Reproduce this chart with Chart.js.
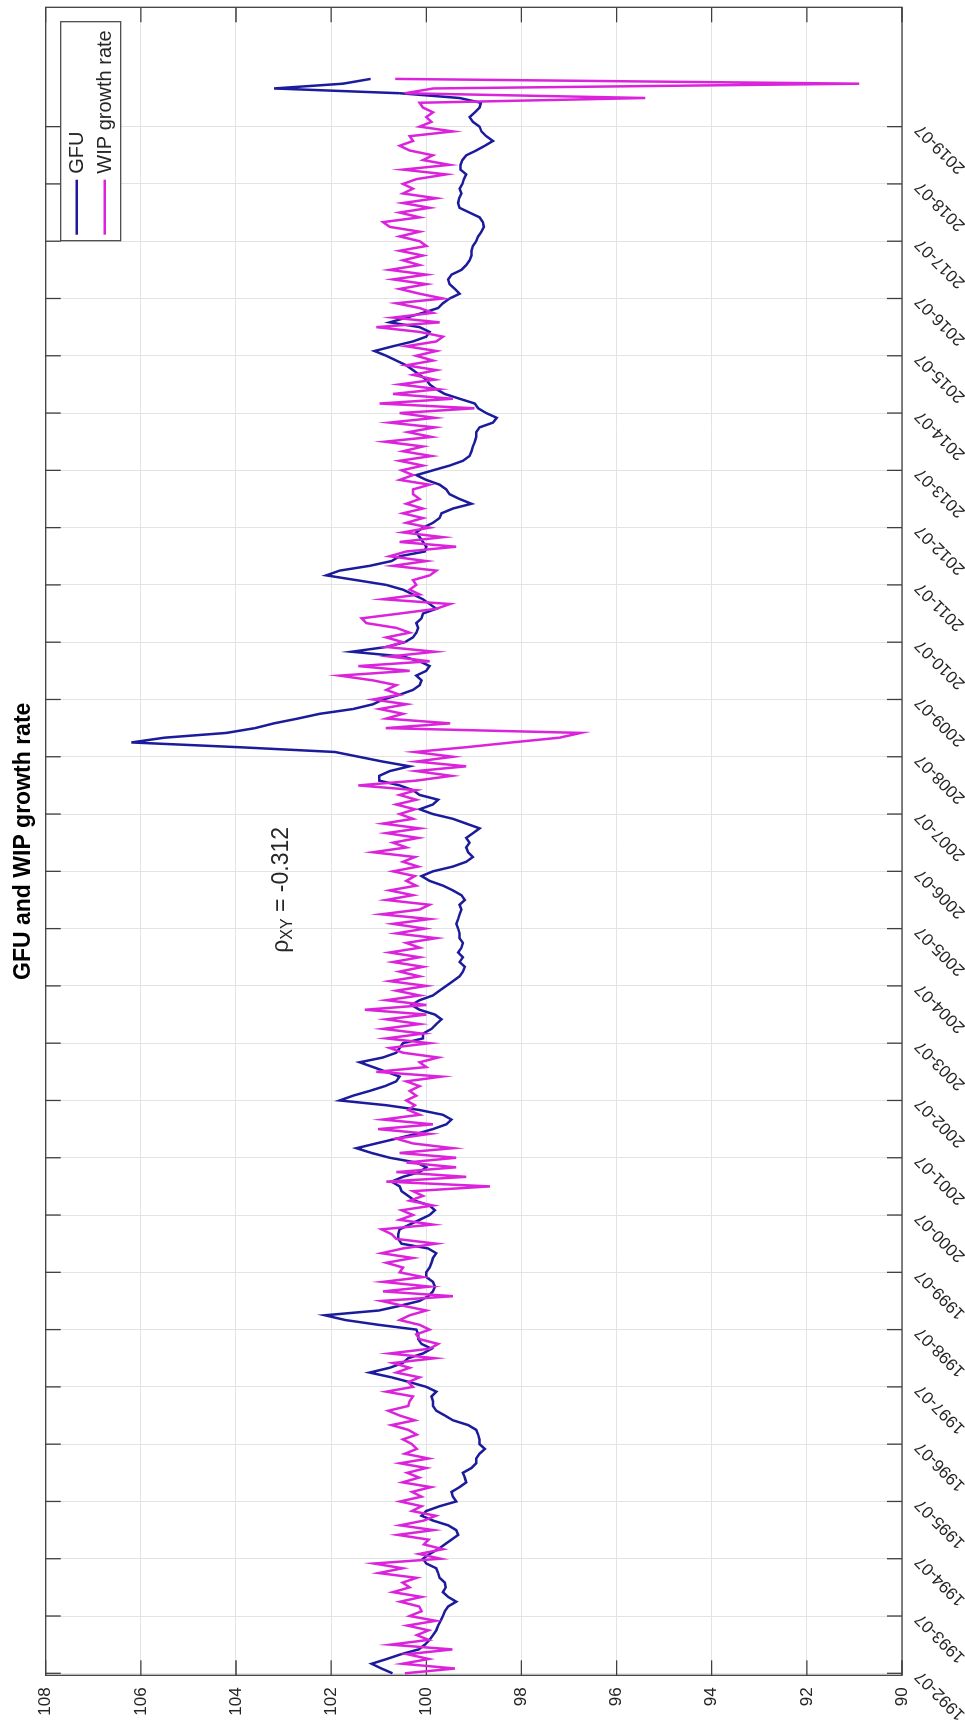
<!DOCTYPE html>
<html>
<head>
<meta charset="utf-8">
<script src="https://cdn.jsdelivr.net/npm/chart.js@4.4.1/dist/chart.umd.min.js"></script>
<style>
  html, body { margin: 0; padding: 0; background: #fff; width: 965px; height: 1731px; overflow: hidden; }
  /* the figure is laid out landscape and turned a quarter turn counter-clockwise */
  #wrap { position: absolute; left: 0; top: 0; width: 1731px; height: 965px;
          transform-origin: 0 0; transform: translate(0, 1731px) rotate(-90deg); background: #fff; }
  canvas { display: block; }
</style>
</head>
<body>
<div id="wrap"><canvas id="c" width="1731" height="965"></canvas></div>
<script>
// Monthly series, first month 1992-07 (index 0), last month 2020-05
const gfu = [
  100.71, 100.94, 101.15, 100.83, 100.53, 100.16, 100.03, 99.93, 99.86, 99.79, 99.75, 99.70,   // 1992-07
  99.65, 99.61, 99.54, 99.37, 99.54, 99.65, 99.59, 99.61, 99.72, 99.75, 99.79, 100.00,         // 1993-07
  100.07, 99.93, 99.75, 99.61, 99.47, 99.33, 99.37, 99.54, 99.86, 100.10, 100.00, 99.72,       // 1994-07
  99.37, 99.44, 99.47, 99.30, 99.16, 99.19, 99.23, 99.05, 98.95, 98.95, 98.88, 98.77,          // 1995-07
  98.88, 98.88, 98.91, 98.95, 99.12, 99.44, 99.61, 99.79, 99.86, 99.86, 99.89, 99.79,          // 1996-07
  100.00, 100.35, 100.73, 101.19, 100.77, 100.49, 100.38, 100.07, 99.89, 100.10, 100.17, 100.17, // 1997-07
  100.21, 101.00, 101.70, 102.13, 101.00, 100.55, 100.14, 99.96, 99.86, 99.82, 99.86, 100.00,  // 1998-07
  100.00, 99.93, 99.89, 99.86, 99.79, 99.96, 100.52, 100.59, 100.59, 100.56, 100.35, 100.14,   // 1999-07
  99.93, 99.82, 99.93, 100.24, 100.38, 100.52, 100.56, 100.73, 100.49, 100.14, 100.00, 100.21, // 2000-07
  100.77, 101.15, 101.47, 101.05, 100.63, 100.21, 99.86, 99.58, 99.47, 99.65, 100.14, 100.84,  // 2001-07
  101.82, 101.54, 101.19, 100.87, 100.63, 100.56, 100.84, 101.12, 101.40, 100.91, 100.63, 100.56, // 2002-07
  100.49, 100.07, 100.07, 99.89, 99.79, 99.68, 99.82, 100.14, 100.31, 100.14, 99.86, 99.72,    // 2003-07
  99.58, 99.44, 99.30, 99.23, 99.19, 99.30, 99.23, 99.33, 99.26, 99.23, 99.30, 99.30,          // 2004-07
  99.33, 99.37, 99.33, 99.30, 99.26, 99.30, 99.19, 99.26, 99.44, 99.65, 99.93, 100.10,         // 2005-07
  99.86, 99.44, 99.16, 99.02, 99.12, 99.16, 99.09, 99.16, 99.02, 98.88, 99.16, 99.44,          // 2006-07
  99.86, 100.14, 99.86, 99.75, 100.14, 100.28, 100.56, 100.99, 100.99, 100.77, 100.35, 100.92, // 2007-07
  101.42, 101.92, 103.93, 106.20, 105.50, 104.20, 103.60, 103.20, 102.70, 102.24, 101.54, 101.12, // 2008-07
  100.91, 100.56, 100.28, 100.14, 100.10, 100.21, 100.00, 99.93, 100.14, 100.49, 101.57, 100.84, // 2009-07
  100.45, 100.28, 100.21, 100.17, 100.21, 100.10, 100.07, 99.79, 99.93, 100.07, 100.28, 100.49, // 2010-07
  100.84, 101.47, 102.10, 101.82, 101.19, 100.73, 100.56, 100.03, 100.00, 100.07, 100.14, 100.21, // 2011-07
  100.07, 99.86, 99.72, 99.68, 99.44, 99.05, 99.30, 99.51, 99.58, 99.72, 100.00, 100.21,       // 2012-07
  99.86, 99.51, 99.23, 99.09, 99.05, 99.02, 98.98, 98.95, 98.95, 98.88, 98.60, 98.52,          // 2013-07
  98.74, 98.91, 98.98, 99.30, 99.61, 99.79, 99.93, 100.00, 100.14, 100.28, 100.42, 100.63,     // 2014-07
  100.84, 101.09, 100.70, 100.28, 100.00, 99.93, 100.14, 100.77, 100.42, 100.07, 99.75, 99.65, // 2015-07
  99.51, 99.30, 99.40, 99.51, 99.54, 99.47, 99.26, 99.16, 99.09, 99.05, 99.05, 99.02,          // 2016-07
  98.95, 98.91, 98.84, 98.79, 98.81, 98.88, 99.09, 99.30, 99.33, 99.31, 99.26, 99.30,          // 2017-07
  99.24, 99.21, 99.16, 99.28, 99.28, 99.24, 99.16, 98.95, 98.77, 98.60, 98.74, 98.84,          // 2018-07
  98.88, 99.02, 99.09, 98.98, 98.88, 98.85, 99.30, 100.56, 103.20, 101.75, 101.17              // 2019-07
];

const wip = [
  100.45, 99.40, 100.50, 99.95, 100.40, 99.45, 100.75, 99.95, 100.20, 99.95, 100.40, 99.80,    // 1992-07
  100.35, 100.10, 100.15, 100.55, 100.10, 100.70, 100.35, 100.50, 100.20, 101.00, 100.50, 101.10, // 1993-07
  99.70, 100.15, 99.65, 100.05, 99.95, 100.60, 99.85, 100.55, 100.05, 99.80, 100.30, 100.10,   // 1994-07
  100.55, 100.10, 100.30, 99.90, 100.50, 100.15, 100.40, 100.00, 100.55, 99.95, 100.45, 100.20, // 1995-07
  100.30, 100.49, 100.20, 100.38, 100.73, 100.24, 100.56, 100.80, 100.38, 100.35, 100.28, 100.84, // 1996-07
  100.28, 100.38, 100.14, 100.63, 100.35, 100.70, 99.82, 100.77, 99.93, 99.75, 100.14, 100.21, // 1997-07
  99.93, 100.14, 100.56, 100.35, 100.00, 100.49, 100.94, 99.44, 100.91, 99.93, 100.91, 100.07, // 1998-07
  100.56, 100.49, 100.84, 100.28, 100.94, 100.49, 99.79, 100.63, 100.73, 100.94, 99.86, 100.56, // 1999-07
  100.28, 100.52, 99.86, 100.35, 100.07, 100.28, 98.66, 100.84, 99.16, 100.63, 99.37, 100.42,  // 2000-07
  99.37, 100.56, 99.44, 100.28, 100.63, 99.93, 101.01, 99.86, 100.91, 100.14, 100.38, 100.24,  // 2001-07
  100.42, 100.21, 100.35, 100.14, 100.42, 99.68, 101.05, 100.00, 100.14, 99.75, 100.49, 100.77, // 2002-07
  99.93, 100.84, 100.07, 100.91, 100.14, 100.84, 100.00, 101.29, 100.00, 100.84, 100.14, 100.63, // 2003-07
  100.00, 100.77, 100.14, 100.56, 100.07, 100.70, 100.14, 100.77, 100.14, 100.42, 99.79, 100.63, // 2004-07
  100.03, 100.70, 99.93, 100.94, 100.14, 99.93, 100.84, 100.28, 100.77, 100.21, 100.42, 100.24, // 2005-07
  100.70, 100.17, 100.49, 100.24, 101.12, 100.42, 100.70, 100.17, 100.84, 100.14, 100.91, 100.28, // 2006-07
  100.56, 100.24, 100.63, 100.21, 100.56, 100.21, 101.43, 100.21, 99.47, 100.21, 99.16, 100.21, // 2007-07
  99.44, 100.24, 99.16, 98.20, 97.20, 96.75, 100.85, 99.50, 100.84, 100.49, 100.98, 100.42,    // 2008-07
  101.12, 100.56, 100.84, 100.63, 101.12, 101.82, 100.35, 101.43, 99.93, 100.77, 99.82, 100.84, // 2009-07
  100.49, 100.84, 100.35, 100.63, 101.26, 101.36, 100.56, 99.79, 99.50, 100.91, 100.14, 100.35, // 2010-07
  100.21, 100.28, 99.93, 99.79, 100.70, 100.00, 100.77, 100.42, 99.37, 100.56, 99.65, 100.49,  // 2011-07
  99.93, 100.42, 100.07, 100.49, 100.07, 100.42, 100.14, 100.28, 100.28, 99.93, 100.56, 100.28, // 2012-07
  100.52, 100.07, 100.56, 99.89, 100.49, 100.07, 100.87, 99.89, 100.38, 99.82, 100.77, 99.82,  // 2013-07
  100.56, 98.99, 100.98, 99.44, 100.70, 99.75, 100.56, 99.82, 100.28, 99.79, 100.42, 99.86,    // 2014-07
  100.21, 99.79, 100.42, 99.79, 99.65, 100.14, 101.05, 99.72, 100.70, 99.86, 100.14, 100.63,   // 2015-07
  99.65, 100.14, 100.56, 100.00, 100.70, 100.00, 100.77, 100.14, 100.49, 100.07, 100.56, 100.00, // 2016-07
  100.14, 100.56, 100.14, 100.77, 100.91, 100.14, 100.56, 99.93, 100.49, 99.79, 100.49, 100.28, // 2017-07
  100.49, 100.21, 99.58, 100.49, 99.51, 100.07, 99.86, 100.35, 100.56, 100.28, 100.35, 99.44,  // 2018-07
  100.14, 99.89, 100.00, 99.86, 100.07, 100.14, 95.40, 100.45, 99.85, 90.90, 100.65            // 2019-07
];

// one tick per year, every July
const tickLabels = [
  '1992-07', '1993-07', '1994-07', '1995-07', '1996-07', '1997-07', '1998-07',
  '1999-07', '2000-07', '2001-07', '2002-07', '2003-07', '2004-07', '2005-07',
  '2006-07', '2007-07', '2008-07', '2009-07', '2010-07', '2011-07', '2012-07',
  '2013-07', '2014-07', '2015-07', '2016-07', '2017-07', '2018-07', '2019-07'
];
const valueTicks = [90, 92, 94, 96, 98, 100, 102, 104, 106, 108];

const seriesNames = ['GFU', 'WIP growth rate'];
const chartTitle = 'GFU and WIP growth rate';
const corrValue = '-0.312';

const FONT = "'Liberation Sans', Arial, Helvetica, sans-serif";
const BLUE = '#1b1b9c';
const MAGENTA = '#dc23dc';
const GRID = '#e3e3e3';
const AXIS = '#3f3f3f';
const LABEL = '#262626';
const TICK_LEN = 15;

function toPoints(arr) { return arr.map((v, i) => ({ x: i, y: v })); }

const framePlugin = {
  id: 'frame',
  beforeDatasetsDraw(chart) {
    const { ctx, chartArea: a, scales: { x, y } } = chart;
    ctx.save();
    ctx.strokeStyle = AXIS;
    ctx.lineWidth = 1.3;
    ctx.strokeRect(a.left, a.top, a.right - a.left, a.bottom - a.top);
    ctx.beginPath();
    x.ticks.forEach(t => {
      const px = x.getPixelForValue(t.value);
      ctx.moveTo(px, a.bottom); ctx.lineTo(px, a.bottom - TICK_LEN);
      ctx.moveTo(px, a.top); ctx.lineTo(px, a.top + TICK_LEN);
    });
    y.ticks.forEach(t => {
      const py = y.getPixelForValue(t.value);
      ctx.moveTo(a.left, py); ctx.lineTo(a.left + TICK_LEN, py);
      ctx.moveTo(a.right, py); ctx.lineTo(a.right - TICK_LEN, py);
    });
    ctx.stroke();
    ctx.restore();
  },
  afterDraw(chart) {
    const { ctx, chartArea: a, scales: { x, y } } = chart;
    ctx.save();

    // title, centred over the axes
    ctx.fillStyle = '#000';
    ctx.font = `bold 23px ${FONT}`;
    ctx.textAlign = 'center';
    ctx.textBaseline = 'middle';
    ctx.fillText(chartTitle, (a.left + a.right) / 2, 24);

    // legend box in the upper right corner of the axes
    const bw = 219, bh = 60;
    const bx = a.right - 14.4 - bw, by = a.top + 15;
    ctx.fillStyle = '#fff';
    ctx.fillRect(bx, by, bw, bh);
    ctx.strokeStyle = AXIS;
    ctx.lineWidth = 1.2;
    ctx.strokeRect(bx, by, bw, bh);
    const rows = [by + 16, by + 44];
    const colors = [BLUE, MAGENTA];
    ctx.font = `20px ${FONT}`;
    ctx.textAlign = 'left';
    ctx.textBaseline = 'middle';
    rows.forEach((ry, i) => {
      ctx.strokeStyle = colors[i];
      ctx.lineWidth = 2.6;
      ctx.beginPath();
      ctx.moveTo(bx + 6, ry); ctx.lineTo(bx + 61, ry);
      ctx.stroke();
      ctx.fillStyle = LABEL;
      ctx.fillText(seriesNames[i], bx + 67, ry + 1);
    });

    // correlation note, right end anchored in data space
    const big = `23px ${FONT}`, small = `16px ${FONT}`;
    const parts = [
      { t: '\u03C1', f: big, dy: 0 },
      { t: 'XY', f: small, dy: 6 },
      { t: ' = ' + corrValue, f: big, dy: 0 }
    ];
    let total = 0;
    parts.forEach(p => { ctx.font = p.f; p.w = ctx.measureText(p.t).width; total += p.w; });
    let cx = x.getPixelForValue(177.3) - total;
    const cy = y.getPixelForValue(103.05);
    ctx.fillStyle = LABEL;
    ctx.textAlign = 'left';
    ctx.textBaseline = 'middle';
    parts.forEach(p => { ctx.font = p.f; ctx.fillText(p.t, cx, cy + p.dy); cx += p.w; });

    ctx.restore();
  }
};

new Chart(document.getElementById('c').getContext('2d'), {
  type: 'line',
  data: {
    datasets: [
      { label: seriesNames[0], data: toPoints(gfu), borderColor: BLUE, backgroundColor: BLUE,
        borderWidth: 2.5, pointRadius: 0, tension: 0, fill: false, order: 1 },
      { label: seriesNames[1], data: toPoints(wip), borderColor: MAGENTA, backgroundColor: MAGENTA,
        borderWidth: 2.5, pointRadius: 0, tension: 0, fill: false, order: 0 }
    ]
  },
  options: {
    responsive: false,
    animation: false,
    devicePixelRatio: 1,
    layout: { padding: { left: 0, right: 7.3, top: 45.7, bottom: 0 } },
    plugins: { legend: { display: false }, tooltip: { enabled: false }, title: { display: false } },
    scales: {
      x: {
        type: 'linear',
        min: -0.42,
        max: 349.0,
        afterBuildTicks: s => { s.ticks = tickLabels.map((_, k) => ({ value: 12 * k })); },
        afterFit: s => { s.height = 63; },
        ticks: {
          autoSkip: false, minRotation: 45, maxRotation: 45, padding: 9,
          color: LABEL, font: { family: FONT, size: 17 },
          callback: (v, i) => tickLabels[i]
        },
        grid: { color: GRID, lineWidth: 1, drawTicks: false },
        border: { display: false }
      },
      y: {
        min: 90,
        max: 108,
        afterBuildTicks: s => { s.ticks = valueTicks.map(v => ({ value: v })); },
        afterFit: s => { s.width = 55.7; },
        ticks: { padding: 12, color: LABEL, font: { family: FONT, size: 17 }, callback: v => String(v) },
        grid: { color: GRID, lineWidth: 1, drawTicks: false },
        border: { display: false }
      }
    }
  },
  plugins: [framePlugin]
});
</script>
</body>
</html>
